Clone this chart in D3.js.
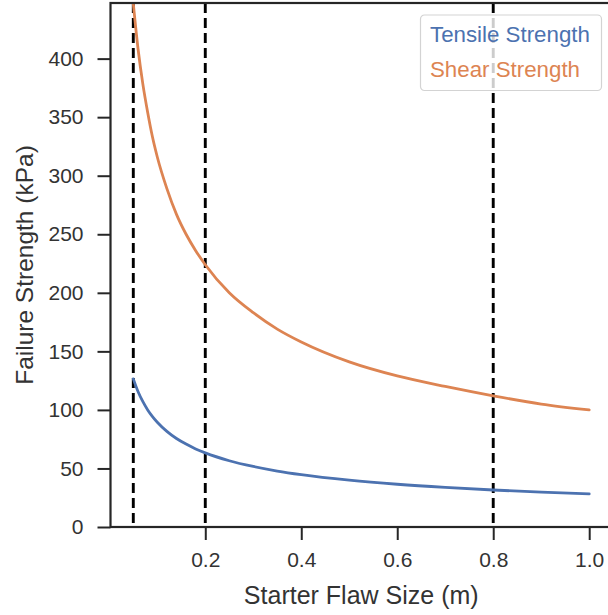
<html>

<head>
    <script src="https://d3js.org/d3.v7.min.js"></script>
    <title>Failure Strength vs Starter Flaw Size</title>
    <style>
        body { margin: 0; background: white; }
        text { font-family: "Liberation Sans", Arial, sans-serif; }
    </style>
</head>

<body>
    <div id="vis"></div>
</body>

<script>

    // values
    var flawSize = [0.05, 0.06, 0.07, 0.08, 0.09, 0.10, 0.12, 0.14, 0.16, 0.18, 0.20,
        0.25, 0.30, 0.35, 0.40, 0.50, 0.60, 0.70, 0.80, 0.90, 1.00];
    var tensile = [126.5, 115.5, 107, 100, 94.3, 89.5, 81.7, 75.6, 70.8, 66.7, 63.3,
        56.6, 51.7, 47.8, 44.7, 40.0, 36.5, 33.8, 31.6, 29.8, 28.3];
    var shear = [447, 408, 378, 354, 333, 316, 289, 267, 250, 236, 224,
        200, 183, 169, 158, 141, 129, 120, 112, 105, 100];
    var markerSizes = [0.05, 0.2, 0.8];
    var xTicks = [0.2, 0.4, 0.6, 0.8, 1.0];
    var yTicks = [0, 50, 100, 150, 200, 250, 300, 350, 400];
    var seriesNames = ["Tensile Strength", "Shear Strength"];
    var seriesColors = ["#4c72b0", "#dd8452"];

    //Setting up the graph area
    var margin = { top: 3, right: 0, bottom: 88, left: 110.5 },
        width = 612 - margin.left,
        height = 615 - margin.top - margin.bottom;

    var svg = d3.select("#vis")
        .append("svg")
        .attr("width", 608)
        .attr("height", 615)
        .append("g")
        .attr("transform", "translate(" + margin.left + "," + margin.top + ")");

    var x = d3.scaleLinear()
        .domain([0.0025, 1.0475])
        .range([0, width]);

    var y = d3.scaleLinear()
        .domain([0, 447.5])
        .range([height, 0]);

    svg.append("clipPath")
        .attr("id", "plotClip")
        .append("rect")
        .attr("width", width)
        .attr("height", height);

    // dashed flaw size markers
    svg.selectAll("vline")
        .data(markerSizes)
        .enter()
        .append("line")
        .attr("x1", function (d) { return x(d); })
        .attr("x2", function (d) { return x(d); })
        .attr("y1", 0)
        .attr("y2", height)
        .attr("stroke", "black")
        .attr("stroke-width", 2.9)
        .attr("stroke-dasharray", "10,5");

    // strength curves
    var series = [tensile, shear];
    var line = d3.line()
        .x(function (d, i) { return x(flawSize[i]); })
        .y(function (d) { return y(d); })
        .curve(d3.curveMonotoneX);

    svg.append("g")
        .attr("clip-path", "url(#plotClip)")
        .selectAll("path")
        .data(series)
        .enter()
        .append("path")
        .attr("d", line)
        .attr("fill", "none")
        .attr("stroke", function (d, i) { return seriesColors[i]; })
        .attr("stroke-width", 2.8)
        .attr("stroke-linecap", "round");

    // axes
    var xAxis = svg.append("g")
        .attr("transform", "translate(0," + height + ")")
        .call(d3.axisBottom(x).tickValues(xTicks).tickFormat(d3.format(".1f"))
            .tickSize(13).tickPadding(12).tickSizeOuter(0));

    var yAxis = svg.append("g")
        .call(d3.axisLeft(y).tickValues(yTicks).tickSize(13).tickPadding(14).tickSizeOuter(0));

    [xAxis, yAxis].forEach(function (a) {
        a.select(".domain").remove();
        a.selectAll("line").attr("stroke", "#262626").attr("stroke-width", 2);
        a.selectAll("text")
            .attr("fill", "#333")
            .style("font-size", "21px")
            .style("font-family", "'Liberation Sans', Arial, sans-serif");
    });

    // frame
    svg.append("rect")
        .attr("width", width)
        .attr("height", height)
        .attr("fill", "none")
        .attr("stroke", "#262626")
        .attr("stroke-width", 2.2);

    //x axis label
    svg.append("text")
        .attr("x", width / 2)
        .attr("y", height + 77)
        .style("text-anchor", "middle")
        .style("font-size", "25px")
        .attr("fill", "#333")
        .text("Starter Flaw Size (m)");

    //y axis label
    svg.append("text")
        .attr("transform", "rotate(-90)")
        .attr("x", -height / 2)
        .attr("y", 33 - margin.left)
        .style("text-anchor", "middle")
        .style("font-size", "24.5px")
        .attr("fill", "#333")
        .text("Failure Strength (kPa)");

    // legend
    var legend = svg.append("g")
        .attr("transform", "translate(" + (420.5 - margin.left) + "," + (15 - margin.top) + ")");

    legend.append("rect")
        .attr("width", 181)
        .attr("height", 75.5)
        .attr("rx", 4)
        .attr("fill", "white")
        .attr("fill-opacity", 0.8)
        .attr("stroke", "#d3d3d3")
        .attr("stroke-width", 1.2);

    legend.selectAll("label")
        .data(seriesNames)
        .enter()
        .append("text")
        .attr("x", 9.5)
        .attr("y", function (d, i) { return 26.5 + i * 35; })
        .attr("fill", function (d, i) { return seriesColors[i]; })
        .style("font-size", "22.3px")
        .text(function (d) { return d; });

</script>

</html>
